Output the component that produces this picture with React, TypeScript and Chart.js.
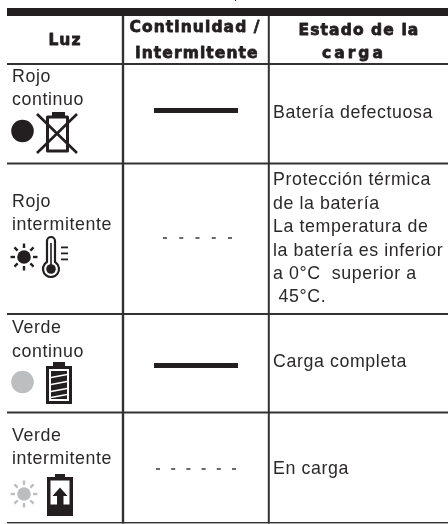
import React, { useEffect, useRef } from "react";
import { Chart, registerables } from "chart.js";

Chart.register(...registerables);

const W = 448;
const H = 524;
const INK = "#231f20";
const PALE = "#bcbec0";

const headers = [["Luz"], ["Continuidad /", "intermitente"], ["Estado de la", "carga"]];
const lights = [["Rojo", "continuo"], ["Rojo", "intermitente"], ["Verde", "continuo"], ["Verde", "intermitente"]];
const states = [
  ["Batería defectuosa"],
  ["Protección térmica", "de la batería", "La temperatura de", "la batería es inferior", "a 0°C  superior a", " 45°C."],
  ["Carga completa"],
  ["En carga"],
];
const pulses = [0, 5, 0, 6];

const rowLines = [64, 163.5, 314, 412.5, 523];
const lightBaselines = [[82, 105], [207, 230], [333, 357], [441, 464]];
const stateBaselines = [[118], [185, 209, 232, 256, 279, 302], [367], [474]];
const markY = [110.5, 238, 365.5, 469];
const markX = [[154, 238], [163, 232], [154, 238], [156, 236]];
const dashPattern = [[], [4, 12.25], [], [4, 11.2]];

function sun(c: any, x: number, y: number, color: string) {
  c.fillStyle = color;
  c.strokeStyle = color;
  c.beginPath();
  c.arc(x, y, 6.8, 0, Math.PI * 2);
  c.fill();
  c.lineWidth = 2.4;
  for (let i = 0; i < 8; i++) {
    const a = (i * Math.PI) / 4;
    c.beginPath();
    c.moveTo(x + Math.cos(a) * 9, y + Math.sin(a) * 9);
    c.lineTo(x + Math.cos(a) * 13.5, y + Math.sin(a) * 13.5);
    c.stroke();
  }
}

function drawIcons(c: any) {
  c.save();
  c.fillStyle = INK;
  c.strokeStyle = INK;
  // row 1
  c.beginPath();
  c.arc(22.5, 131, 11.3, 0, Math.PI * 2);
  c.fill();
  c.lineWidth = 3;
  c.strokeRect(47.5, 117, 20, 34);
  c.fillRect(52, 112, 13, 4);
  c.lineWidth = 2.6;
  c.beginPath();
  c.moveTo(37, 114);
  c.lineTo(77, 153);
  c.moveTo(77, 114);
  c.lineTo(37, 153);
  c.stroke();
  // row 2
  sun(c, 24, 257, INK);
  c.strokeStyle = INK;
  c.fillStyle = INK;
  c.lineWidth = 2.2;
  c.beginPath();
  c.moveTo(47, 262);
  c.lineTo(47, 241);
  c.arc(51, 241, 4, Math.PI, 0);
  c.lineTo(55, 262);
  c.arc(51, 269, 8, -Math.PI / 3.4, Math.PI + Math.PI / 3.4);
  c.closePath();
  c.stroke();
  c.beginPath();
  c.arc(51, 269, 4.8, 0, Math.PI * 2);
  c.fill();
  c.fillRect(50.2, 243, 1.6, 22);
  c.fillRect(61, 246.5, 7, 1.8);
  c.fillRect(61, 252.5, 7, 1.8);
  c.fillRect(61, 258.5, 7, 1.8);
  // row 3
  c.fillStyle = PALE;
  c.beginPath();
  c.arc(22.5, 382, 11.3, 0, Math.PI * 2);
  c.fill();
  c.fillStyle = INK;
  c.fillRect(53, 362, 12, 5);
  c.fillRect(46, 366, 26, 38);
  c.fillStyle = "#fff";
  c.fillRect(49, 369, 20, 32);
  c.fillStyle = INK;
  c.fillRect(51, 371, 16, 28);
  c.strokeStyle = "#fff";
  c.lineWidth = 1.3;
  [376, 383, 390, 396].forEach((y) => {
    c.beginPath();
    c.moveTo(51, y + 1.5);
    c.lineTo(67, y - 1.5);
    c.stroke();
  });
  // row 4
  sun(c, 24, 494, PALE);
  c.fillStyle = INK;
  c.fillRect(55, 474, 10, 4);
  c.fillRect(47, 477, 26, 39);
  c.fillStyle = "#fff";
  c.fillRect(50.5, 480.5, 19, 24);
  c.fillStyle = INK;
  c.fillRect(57, 494, 6.5, 12);
  c.beginPath();
  c.moveTo(60, 487.5);
  c.lineTo(67.5, 496);
  c.lineTo(52.5, 496);
  c.closePath();
  c.fill();
  c.restore();
}

const tablePlugin = {
  id: "table",
  beforeDatasetsDraw(chart: any) {
    const c = chart.ctx;
    c.save();
    c.fillStyle = "#fff";
    c.fillRect(0, 0, W, H);
    c.fillStyle = INK;
    c.fillRect(7, 8, W - 7, 8);
    c.fillRect(235, 0, 1, 1);
    c.fillStyle = "#333132";
    c.fillRect(121.8, 16, 2.4, 507.5);
    c.fillRect(267.8, 16, 2, 507.5);
    rowLines.forEach((y) => c.fillRect(7, y - 1, W - 7, y === 523 ? 1.4 : 2));
    c.fillStyle = INK;
    c.textBaseline = "alphabetic";
    c.textAlign = "center";
    c.strokeStyle = INK;
    c.lineWidth = 0.8;
    c.lineJoin = "round";
    const hc = [[65], [195, 197], [359, 354]];
    const hb = [[45], [32, 58], [35, 58]];
    const hs = [[1.1], [1.1, 1.1], [1.1, 3]];
    headers.forEach((lines, i) =>
      lines.forEach((t, j) => {
        c.letterSpacing = `${hs[i][j]}px`;
        c.font = "bold 15.5px 'DejaVu Sans'";
        c.fillText(t, hc[i][j], hb[i][j]);
        c.strokeText(t, hc[i][j], hb[i][j]);
      })
    );
    c.textAlign = "left";
    c.letterSpacing = "0.6px";
    c.font = "17.8px 'Liberation Sans'";
    c.fillStyle = "#2b2829";
    lights.forEach((lines, i) => lines.forEach((t, j) => c.fillText(t, 12, lightBaselines[i][j])));
    states.forEach((lines, i) => lines.forEach((t, j) => c.fillText(t, 273, stateBaselines[i][j])));
    c.letterSpacing = "0px";
    drawIcons(c);
    c.restore();
  },
};

export default function App() {
  const ref = useRef<HTMLCanvasElement>(null);
  useEffect(() => {
    const chart = new Chart(ref.current as HTMLCanvasElement, {
      type: "scatter",
      data: {
        datasets: pulses.map((p, i) => ({
          label: `Fila ${i + 1}`,
          data: markX[i].map((x) => ({ x, y: markY[i] })),
          showLine: true,
          pointRadius: 0,
          borderColor: p ? "#3a3738" : INK,
          borderWidth: p ? 1.5 : 5,
          borderDash: dashPattern[i],
          borderCapStyle: "butt",
        })),
      },
      options: {
        animation: false,
        responsive: false,
        layout: { padding: 0 },
        plugins: { legend: { display: false }, tooltip: { enabled: false } },
        scales: {
          x: { type: "linear", min: 0, max: W, display: false },
          y: { type: "linear", min: 0, max: H, reverse: true, display: false },
        },
      },
      plugins: [tablePlugin],
    } as any);
    return () => chart.destroy();
  }, []);
  return (
    <div style={{ position: "fixed", left: 0, top: 0, width: W, height: H, background: "#fff" }}>
      <canvas ref={ref} width={W} height={H} style={{ display: "block" }} />
    </div>
  );
}
